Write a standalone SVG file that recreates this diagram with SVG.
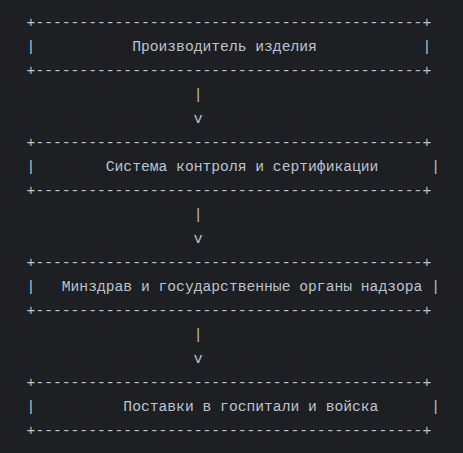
<svg xmlns="http://www.w3.org/2000/svg" width="463" height="453" viewBox="0 0 463 453">
<style>
text{font-family:"Liberation Mono","DejaVu Sans Mono",monospace;font-size:14.667px;fill:#bcc4cf;white-space:pre}
</style>
<rect width="463" height="453" fill="#1e1f22"/>
<g id="node-manufacturer">
<text x="26.6" y="26.5">+--------------------------------------------+</text>
<text x="26.6" y="50.5">|           Производитель изделия            |</text>
<text x="26.6" y="74.5">+--------------------------------------------+</text>
</g>
<g id="node-control">
<text x="26.6" y="146.5">+--------------------------------------------+</text>
<text x="26.6" y="170.5">|        Система контроля и сертификации      |</text>
<text x="26.6" y="194.5">+--------------------------------------------+</text>
</g>
<g id="node-ministry">
<text x="26.6" y="266.5">+--------------------------------------------+</text>
<text x="26.6" y="290.5">|   Минздрав и государственные органы надзора |</text>
<text x="26.6" y="314.5">+--------------------------------------------+</text>
</g>
<g id="node-supply">
<text x="26.6" y="386.5">+--------------------------------------------+</text>
<text x="26.6" y="410.5">|          Поставки в госпитали и войска      |</text>
<text x="26.6" y="434.5">+--------------------------------------------+</text>
</g>
<g id="connectors">
<text x="26.6" y="98.5">                   |</text>
<text x="26.6" y="122.5">                   v</text>
<text x="26.6" y="218.5">                   |</text>
<text x="26.6" y="242.5">                   v</text>
<text x="26.6" y="338.5">                   |</text>
<text x="26.6" y="362.5">                   v</text>
</g>
</svg>
